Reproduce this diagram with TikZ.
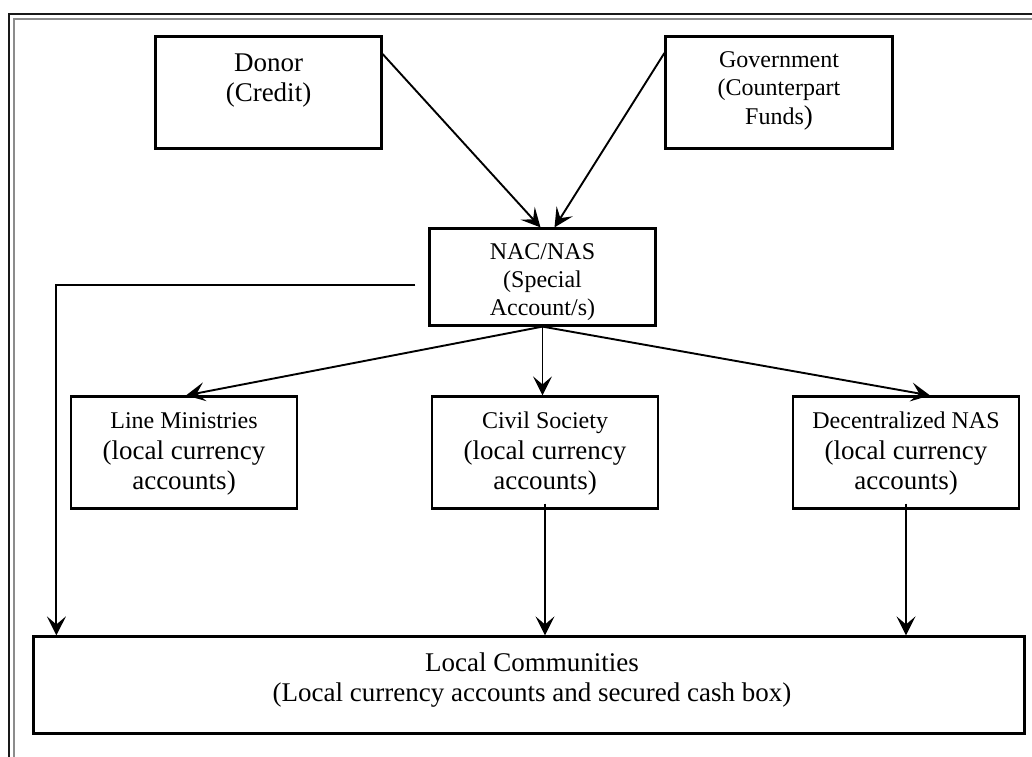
\documentclass[tikz,border=0pt]{standalone}
\usepackage{fontspec}
\setmainfont{Liberation Serif}
\usetikzlibrary{arrows.meta,calc}
\begin{document}
\begin{tikzpicture}[x=1pt,y=-1pt,
  box/.style={draw=black,line width=2.2pt,minimum width=226pt,minimum height=112pt,inner sep=0pt},
  conn/.style={line width=1.9pt,-{Stealth[length=19pt,width=19pt,inset=8pt]}},
  big/.style={font=\fontsize{27}{30}\selectfont,anchor=base,inner sep=0pt},
  small/.style={font=\fontsize{24}{28}\selectfont,anchor=base,inner sep=0pt}]
\useasboundingbox (0,0) rectangle (1032,756);
% frame
\draw[line width=2.4pt,black!90] (9,760) -- (9,14) -- (1036,14);
\draw[line width=2.2pt,black!45] (14,760) -- (14,19) -- (1036,19);
% boxes
\node[box] (donor) at (268.5,92.5) {};
\node[box,minimum width=227pt] (gov) at (779,92.5) {};
\node[box,minimum height=97pt] (nac) at (542.5,277) {};
\node[box] (lm) at (184,452.5) {};
\node[box] (cs) at (545,452.5) {};
\node[box] (dec) at (906,452.5) {};
\node[box,minimum width=991pt,minimum height=97pt] (local) at (529,685) {};
% texts
\node[big] (donorA) at (268.5,71) {Donor};
\node[big] (donorB) at (268.5,101) {(Credit)};
\node[small] (govA) at (779,67) {Government};
\node[small] (govB) at (779,95) {(Counterpart};
\node[small] (govC) at (779,124) {Funds{\fontsize{27}{30}\selectfont)}};
\node[small] (nacA) at (542.5,259) {NAC/NAS};
\node[small] (nacB) at (542.5,287) {(Special};
\node[small] (nacC) at (542.5,315) {Account/s)};
\node[small] (lmA) at (184,428) {Line Ministries};
\node[big] (lmB) at (184,459) {(local currency};
\node[big] (lmC) at (184,489) {accounts)};
\node[small] (csA) at (545,428) {Civil Society};
\node[big] (csB) at (545,459) {(local currency};
\node[big] (csC) at (545,489) {accounts)};
\node[small] (decA) at (906,428) {Decentralized NAS};
\node[big] (decB) at (906,459) {(local currency};
\node[big] (decC) at (906,489) {accounts)};
\node[big] (localA) at (532,671) {Local Communities};
\node[big] (localB) at (532,701) {(Local currency accounts and secured cash box)};
% connectors
\draw[conn] ([yshift=38.5]donor.east) -- ([xshift=-2]nac.north);
\draw[conn] ([yshift=39.5]gov.west) -- ([xshift=12]nac.north);
\draw[conn] ([xshift=-13,yshift=-8]nac.west) -| ([xshift=24]local.north west);
\draw[conn] (nac.south) -- ([xshift=2]lm.north);
\draw[conn] (nac.south) -- (nac.south |- cs.north);
\draw[conn] (nac.south) -- ([xshift=24]dec.north);
\draw[conn] ([yshift=6]cs.south) -- (cs.south |- local.north);
\draw[conn] ([yshift=6]dec.south) -- (dec.south |- local.north);
\end{tikzpicture}
\end{document}
